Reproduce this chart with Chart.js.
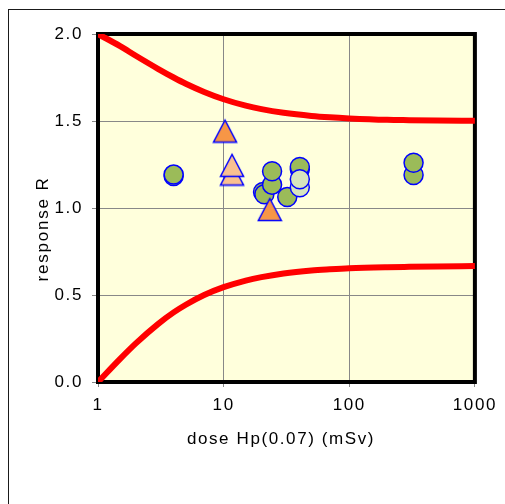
<!DOCTYPE html>
<html>
<head>
<meta charset="utf-8">
<script src="https://cdn.jsdelivr.net/npm/chart.js@4"></script>
<style>
  html, body { margin: 0; padding: 0; background: #fff; overflow: hidden; }
  #wrap { position: relative; width: 505px; height: 504px; overflow: hidden; }
  #frame { position: absolute; left: 8px; top: 9px; width: 600px; height: 600px; border: 1px solid #1a1a1a; }
  #chart { position: absolute; left: 0; top: 0; }
</style>
</head>
<body>
<div id="wrap">
  <div id="frame"></div>
  <canvas id="chart" width="505" height="504"></canvas>
</div>
<script>
// tick labels
const xTickValues = [1, 10, 100, 1000];
const yTickStep = 0.5;

// limit curves
const limitDose = [1, 1.5, 2, 3, 4, 5, 7, 10, 15, 20, 30, 50, 70, 100, 200, 300, 500, 1000];
const upperLimit = [2.0, 1.93, 1.875, 1.8, 1.75, 1.714, 1.667, 1.625, 1.588, 1.568, 1.547, 1.529, 1.521, 1.515, 1.507, 1.505, 1.503, 1.501];
const lowerLimit = [0.0, 0.133, 0.222, 0.333, 0.4, 0.444, 0.5, 0.545, 0.583, 0.603, 0.624, 0.641, 0.648, 0.654, 0.660, 0.662, 0.664, 0.666];

// measured points
const greenDose = [4.0, 4.0, 20.6, 21.1, 24.3, 24.3, 32.1, 40.4, 40.4, 325, 325];
const greenResp = [1.184, 1.192, 1.092, 1.079, 1.134, 1.211, 1.063, 1.222, 1.236, 1.19, 1.26];
const paleDose = [40.4, 40.4];
const paleResp = [1.119, 1.165];
const pinkDose = [11.67, 11.67];
const pinkResp = [1.198, 1.248];
const orangeDose = [10.26, 23.3];
const orangeResp = [1.445, 0.994];

const toPoints = (xs, ys) => xs.map((x, i) => ({ x: x, y: ys[i] }));

function triangle(fill) {
  const c = document.createElement('canvas');
  c.width = 26; c.height = 26;
  const g = c.getContext('2d');
  g.beginPath();
  g.moveTo(13, 2.5);
  g.lineTo(24.5, 24.5);
  g.lineTo(1.5, 24.5);
  g.closePath();
  g.fillStyle = fill;
  g.fill();
  g.lineWidth = 1.5;
  g.strokeStyle = '#0000FF';
  g.stroke();
  return c;
}

const FONT = '"Liberation Sans", Arial, sans-serif';
Chart.defaults.font.family = FONT;
Chart.defaults.font.size = 17;
Chart.defaults.color = '#000';

const plotFrame = {
  id: 'plotFrame',
  beforeLayout(chart) { chart.ctx.letterSpacing = '1.6px'; },
  beforeDraw(chart) {
    const { ctx, chartArea: a } = chart;
    ctx.letterSpacing = '1.6px';
    ctx.save();
    ctx.fillStyle = '#FFFFDC';
    ctx.fillRect(a.left, a.top, a.right - a.left, a.bottom - a.top);
    ctx.restore();
  },
  beforeDatasetsDraw(chart) {
    const { ctx, chartArea: a } = chart;
    ctx.save();
    ctx.lineWidth = 4;
    ctx.strokeStyle = '#000';
    ctx.strokeRect(a.left, a.top, a.right - a.left, a.bottom - a.top);
    ctx.restore();
  },
  afterDraw(chart) {
    const ctx = chart.ctx;
    ctx.save();
    ctx.fillStyle = '#000';
    ctx.font = '17px ' + FONT;
    ctx.textAlign = 'center';
    ctx.textBaseline = 'alphabetic';
    ctx.letterSpacing = '1.6px';
    ctx.fillText('dose Hp(0.07) (mSv)', 281, 444);
    ctx.letterSpacing = '1.8px';
    ctx.translate(47.5, 230);
    ctx.rotate(-Math.PI / 2);
    ctx.fillText('response R', 1, 0);
    ctx.restore();
  }
};

new Chart(document.getElementById('chart'), {
  type: 'scatter',
  data: {
    datasets: [
      {
        label: 'upper',
        data: toPoints(limitDose, upperLimit),
        showLine: true,
        borderColor: '#FF0000',
        borderWidth: 6,
        pointRadius: 0,
        cubicInterpolationMode: 'monotone',
        order: 4
      },
      {
        label: 'lower',
        data: toPoints(limitDose, lowerLimit),
        showLine: true,
        borderColor: '#FF0000',
        borderWidth: 6,
        pointRadius: 0,
        cubicInterpolationMode: 'monotone',
        order: 4
      },
      {
        label: 'green',
        data: toPoints(greenDose, greenResp),
        pointRadius: 9.5,
        pointBackgroundColor: '#9BBB59',
        pointBorderColor: '#0000FF',
        pointBorderWidth: 1.5,
        order: 3
      },
      {
        label: 'pink',
        data: toPoints(pinkDose, pinkResp),
        pointStyle: triangle('#FAC090'),
        order: 2
      },
      {
        label: 'pale',
        data: toPoints(paleDose, paleResp),
        pointRadius: 9.5,
        pointBackgroundColor: '#D7E4BD',
        pointBorderColor: '#0000FF',
        pointBorderWidth: 1.5,
        order: 1
      },
      {
        label: 'orange',
        data: toPoints(orangeDose, orangeResp),
        pointStyle: triangle('#F79646'),
        order: 0
      }
    ]
  },
  options: {
    responsive: false,
    animation: false,
    events: [],
    layout: { padding: { top: 34, right: 30, bottom: 0, left: 0 } },
    plugins: { legend: { display: false }, tooltip: { enabled: false } },
    scales: {
      x: {
        type: 'logarithmic',
        min: 1,
        max: 1000,
        afterBuildTicks: (scale) => { scale.ticks = xTickValues.map(v => ({ value: v })); },
        afterFit: (scale) => { scale.height = 122; },
        ticks: { callback: (v) => String(v), padding: 8, maxRotation: 0, autoSkip: false },
        grid: { color: '#888888', tickColor: '#888888', tickLength: 5 },
        border: { display: false }
      },
      y: {
        min: 0,
        max: 2,
        afterFit: (scale) => { scale.width = 98; },
        ticks: { stepSize: yTickStep, callback: (v) => v.toFixed(1), padding: 9 },
        grid: { color: '#888888', tickColor: '#888888', tickLength: 6 },
        border: { display: false }
      }
    }
  },
  plugins: [plotFrame]
});
</script>
</body>
</html>
